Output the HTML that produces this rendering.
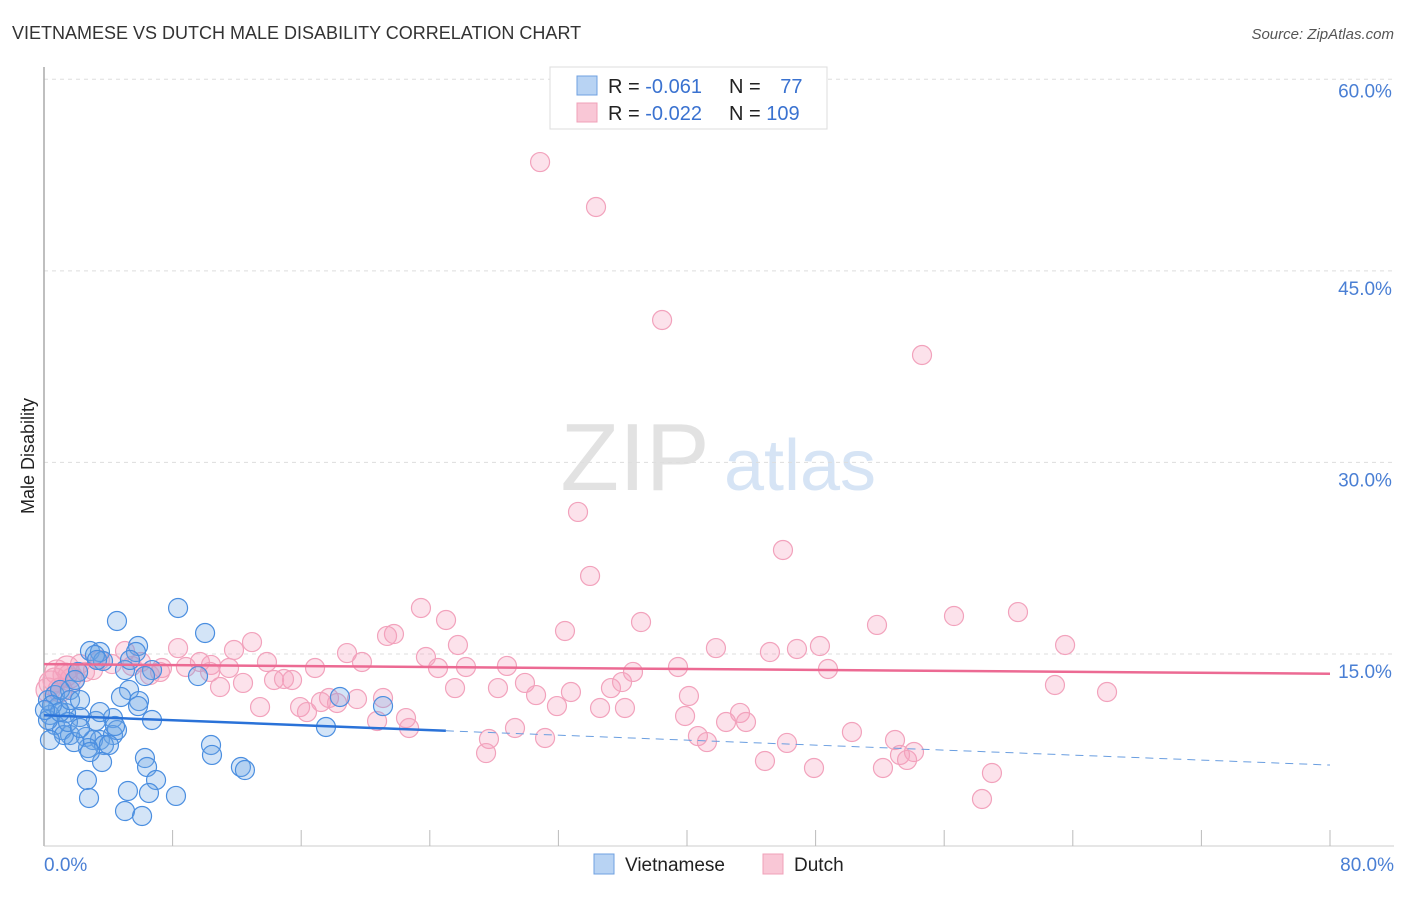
<!DOCTYPE html>
<html><head><meta charset="utf-8"><style>
body{margin:0;background:#fff;font-family:"Liberation Sans",sans-serif;}
svg text{font-family:"Liberation Sans",sans-serif;}
</style></head><body>
<svg id="chart" width="1406" height="892" viewBox="0 0 1406 892">
<text x="12" y="39" font-size="18" fill="#333">VIETNAMESE VS DUTCH MALE DISABILITY CORRELATION CHART</text>
<text x="1394" y="39" font-size="15" fill="#555" font-style="italic" text-anchor="end">Source: ZipAtlas.com</text>
<g>
<text x="635" y="490" font-size="96" fill="#e2e2e2" font-family="Liberation Serif" text-anchor="middle">ZIP</text>
<text x="800" y="490" font-size="72" fill="#d6e4f5" text-anchor="middle">atlas</text>
</g>
<g id="grid"></g>
<g id="axes"></g>
<g id="marks"></g>
<text transform="translate(34,456) rotate(-90)" font-size="18" fill="#222" text-anchor="middle">Male Disability</text>
<g>
<rect x="550" y="67" width="277" height="62" fill="#fff" stroke="#ddd"/>
<rect x="577" y="76" width="20" height="19" fill="#b8d3f3" stroke="#6fa0e0"/>
<rect x="577" y="103" width="20" height="19" fill="#f9c7d6" stroke="#f0a0b8"/>
<text x="608" y="93" font-size="20" fill="#222">R = <tspan fill="#3a72d0">-0.061</tspan></text>
<text x="729" y="93" font-size="20" fill="#222">N = <tspan fill="#3a72d0" dx="14">77</tspan></text>
<text x="608" y="120" font-size="20" fill="#222">R = <tspan fill="#3a72d0">-0.022</tspan></text>
<text x="729" y="120" font-size="20" fill="#222">N = <tspan fill="#3a72d0">109</tspan></text>
</g>
<g>
<rect x="594" y="854" width="20" height="20" fill="#b8d3f3" stroke="#6fa0e0"/>
<text x="625" y="871" font-size="19" fill="#222">Vietnamese</text>
<rect x="763" y="854" width="20" height="20" fill="#f9c7d6" stroke="#f0a0b8"/>
<text x="794" y="871" font-size="19" fill="#222">Dutch</text>
</g>
</svg>
<script>
const yTicks=[15,30,45,60];
const yTickLabels=["15.0%","30.0%","45.0%","60.0%"];
const xTickValues=[0,8,16,24,32,40,48,56,64,72,80];
const xEndLabels=["0.0%","80.0%"];
const viX=[8.34,4.54,10.02,5.85,2.86,3.48,5.72,3.67,3.17,5.04,6.72,9.58,5.29,4.79,21.09,5.91,6.72,4.29,3.23,2.24,0.87,1.37,0.37,0.68,1.12,1.62,2.61,3.48,4.29,4.54,3.05,3.73,2.74,10.39,10.45,17.54,3.61,6.28,6.41,2.67,6.97,12.25,12.5,2.8,5.22,6.53,8.21,5.04,6.1,1.24,1.87,2.86,0.25,0.68,1.62,2.12,1.93,1.0,0.25,0.5,1.49,2.24,4.04,4.42,18.41,3.48,1.0,1.62,0.06,0.37,5.35,3.3,6.28,5.85,2.24];
const viY=[18.6,17.58,16.64,15.62,15.23,15.15,15.15,14.45,14.92,13.74,13.74,13.27,12.18,11.63,10.92,11.31,9.83,9.98,9.75,10.06,10.84,10.37,10.22,9.44,9.04,8.65,8.5,8.26,8.65,9.04,8.26,7.87,7.63,7.87,7.09,9.28,6.54,6.85,6.15,5.13,5.13,6.15,5.91,3.72,4.27,4.11,3.88,2.7,2.31,8.65,8.1,7.32,11.39,11.78,12.18,13.59,12.96,12.18,9.83,11.0,9.67,9.2,7.87,9.36,11.63,10.45,10.45,11.39,10.61,8.26,14.53,14.53,13.27,10.92,11.39];
const duX=[30.86,34.34,38.45,54.62,33.22,45.97,33.97,23.45,25.01,32.41,37.14,56.61,60.59,51.82,63.52,48.27,46.84,45.16,41.8,25.75,21.77,21.34,18.85,12.94,11.82,8.34,19.78,23.76,24.51,26.25,28.8,36.64,39.44,48.77,13.87,11.51,10.39,8.83,7.34,5.47,6.03,7.22,4.23,3.05,1.43,0.81,0.44,1.0,1.74,0.25,10.95,12.38,14.31,15.43,14.93,16.86,19.47,21.09,17.73,18.23,15.93,16.36,13.44,17.23,25.57,28.24,29.92,30.61,32.78,35.27,35.96,40.12,31.91,34.59,36.14,39.88,20.72,22.52,22.71,29.3,27.68,31.17,27.5,40.68,41.24,42.43,43.3,43.67,50.26,46.22,52.94,54.12,53.25,53.69,44.85,47.9,52.19,58.97,58.35,62.89,66.13,5.04,3.48,2.24,1.62,6.59,9.7,0.68,1.31,2.55,10.33];
const duY=[53.52,50.0,41.15,38.41,26.12,23.14,21.11,18.6,17.66,16.8,17.5,17.97,18.28,17.27,15.7,15.62,15.39,15.15,15.46,15.7,16.56,16.41,15.07,15.93,15.31,15.46,14.37,14.76,13.9,13.98,14.06,13.59,13.98,13.82,14.37,13.9,14.14,13.98,13.9,14.06,14.37,13.59,14.21,13.74,13.9,13.59,12.73,12.18,12.96,12.18,12.41,12.73,12.96,12.96,13.04,13.9,11.47,11.55,11.55,11.16,10.84,10.45,10.84,11.24,12.33,12.33,12.73,11.78,12.02,12.33,12.8,11.71,10.92,10.77,10.77,10.14,9.75,9.98,9.2,9.2,8.34,8.42,7.24,8.57,8.1,9.67,10.38,9.67,8.89,8.03,8.26,7.32,7.09,6.7,6.62,6.07,6.07,5.68,3.64,12.57,12.02,15.23,14.53,14.21,13.27,13.35,14.37,12.96,13.35,13.59,13.59];
const viTrend=[10.2,6.3];
const viSolidEnd=25;
const duTrend=[14.2,13.45];

const NS="http://www.w3.org/2000/svg";
const X0=44,X1=1330,Y0=845.5,YPER=12.77;
function xs(v){return X0+(X1-X0)*v/80;}
function ys(v){return Y0-v*YPER;}
function mk(tag,attrs,parent){const e=document.createElementNS(NS,tag);for(const k in attrs)e.setAttribute(k,attrs[k]);parent.appendChild(e);return e;}
const grid=document.getElementById('grid'),axes=document.getElementById('axes'),marks=document.getElementById('marks');
yTicks.forEach((t,i)=>{
  const l=mk('line',{x1:44,x2:1394,y1:ys(t),y2:ys(t),stroke:'#ddd','stroke-dasharray':'4,4'},grid);
  
  
  const tx=mk('text',{x:1365,y:ys(t)+24-(i==3?6:0),'font-size':19,fill:'#4a7fd4','text-anchor':'middle'},grid);
  tx.textContent=yTickLabels[i];
  
  
});
const ax=mk('line',{x1:44,x2:44,y1:67,y2:846,stroke:'#aaa','stroke-width':1.5},axes);


const bx=mk('line',{x1:44,x2:1394,y1:846,y2:846,stroke:'#ccc'},axes);


xTickValues.forEach(v=>{
  const t=mk('line',{x1:xs(v),x2:xs(v),y1:830,y2:846,stroke:'#bbb'},axes);
  
  
});
const xl0=mk('text',{x:44,y:871,'font-size':19,fill:'#4a7fd4'},axes);xl0.textContent=xEndLabels[0];


const xl1=mk('text',{x:1394,y:871,'font-size':19,fill:'#4a7fd4','text-anchor':'end'},axes);xl1.textContent=xEndLabels[1];


duX.forEach((x,i)=>{
  const r=(x<2&&duY[i]>12&&duY[i]<14)?12:9.5;
  const c=mk('circle',{cx:xs(x),cy:ys(duY[i]),r:r,fill:'rgba(244,160,190,0.3)',stroke:'#f2a2bc','stroke-width':1.2},marks);
  
  
});
viX.forEach((x,i)=>{
  const c=mk('circle',{cx:xs(x),cy:ys(viY[i]),r:9.5,fill:'rgba(110,165,230,0.3)',stroke:'#4a8ee0','stroke-width':1.2},marks);
  
  
});
const vAt=v=>viTrend[0]+(viTrend[1]-viTrend[0])*v/80;
const tv=mk('line',{x1:xs(0),y1:ys(viTrend[0]),x2:xs(viSolidEnd),y2:ys(vAt(viSolidEnd)),stroke:'#2a72d8','stroke-width':2.5},marks);


const tvd=mk('line',{x1:xs(viSolidEnd),y1:ys(vAt(viSolidEnd)),x2:xs(80),y2:ys(viTrend[1]),stroke:'#6a9ee0','stroke-width':1,'stroke-dasharray':'8,6'},marks);


const td=mk('line',{x1:xs(0),y1:ys(duTrend[0]),x2:xs(80),y2:ys(duTrend[1]),stroke:'#ec6a93','stroke-width':2.5},marks);


</script>
</body></html>
